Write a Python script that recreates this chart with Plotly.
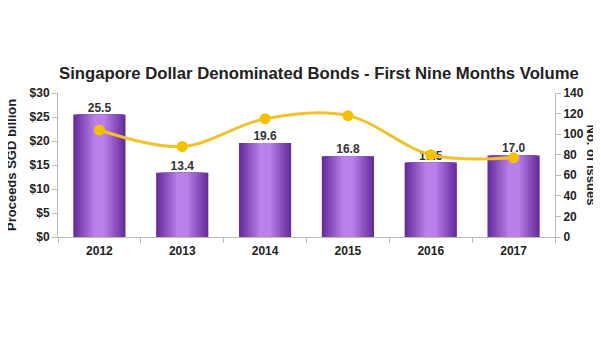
import plotly.graph_objects as go

years = ["2012", "2013", "2014", "2015", "2016", "2017"]
proceeds = [25.5, 13.4, 19.6, 16.8, 15.5, 17.0]
issues = [104, 88, 115, 118, 80, 77]
left_ticks = [0, 5, 10, 15, 20, 25, 30]
left_labels = ["$0", "$5", "$10", "$15", "$20", "$25", "$30"]
right_ticks = [0, 20, 40, 60, 80, 100, 120, 140]

fig = go.Figure()

# layered bars to mimic horizontal gradient (dark edges, light center)
dark = (104, 44, 158)
light = (184, 128, 232)
N = 10
full_w = 0.63
for k in range(N):
    t = k / (N - 1)
    c = tuple(int(dark[i] + (light[i] - dark[i]) * t) for i in range(3))
    w = full_w * (1 - 0.85 * k / N)
    fig.add_trace(go.Bar(
        x=years, y=proceeds, width=w,
        marker=dict(color="rgb(%d,%d,%d)" % c, line=dict(width=0)),
        hoverinfo="skip", showlegend=False))

fig.add_trace(go.Scatter(
    x=years, y=issues, yaxis="y2", mode="lines+markers",
    line=dict(color="#F2C12E", width=3, shape="spline", smoothing=1.0),
    marker=dict(color="#F5C000", size=11),
    showlegend=False, cliponaxis=False))

# value labels
fig.add_trace(go.Scatter(
    x=years, y=proceeds, mode="text",
    text=["<b>%.1f</b>" % v for v in proceeds], textposition="top center",
    textfont=dict(family="Liberation Sans", size=12, color="#333333"),
    showlegend=False, cliponaxis=False))

fig.update_layout(
    width=601, height=360,
    margin=dict(l=50, r=54, t=85, b=131, autoexpand=False),
    paper_bgcolor="white", plot_bgcolor="white",
    barmode="overlay",
    font=dict(family="Liberation Sans", size=12, color="#222222"),
    title=dict(text="<b>Singapore Dollar Denominated Bonds - First Nine Months Volume</b>",
               x=0.525, xanchor="center", xref="paper", y=0.819, yref="container", yanchor="middle",
               font=dict(size=16.7, color="#222222"), automargin=False),
    xaxis=dict(type="category", showline=True, linecolor="#BBBBBB", linewidth=1,
               ticks="outside", tickson="boundaries", ticklen=5, tickcolor="#BBBBBB",
               tickfont=dict(size=12, color="#222222", family="Liberation Sans"),
               ticklabelstandoff=3, automargin=False),
    yaxis=dict(range=[0, 30], tickvals=left_ticks, ticktext=["<b>%s</b>" % s for s in left_labels],
               showgrid=False, zeroline=False, showline=True, linecolor="#BBBBBB",
               ticks="outside", ticklen=5, tickcolor="#BBBBBB", automargin=False),
    yaxis2=dict(range=[0, 140], tickvals=right_ticks, ticktext=["<b>%d</b>" % v for v in right_ticks],
                overlaying="y", side="right", showgrid=False, zeroline=False, automargin=False,
                showline=True, linecolor="#BBBBBB", ticks="outside", ticklen=5, tickcolor="#BBBBBB"),
    annotations=[
        dict(text="<b>No. of Issues</b>", textangle=90, xref="paper", yref="paper",
             x=1.0, xshift=46, y=0.5, showarrow=False,
             font=dict(size=13, color="#222222")),
        dict(text="<b>Proceeds SGD billion</b>", textangle=-90, xref="paper", yref="paper",
             x=0.0, xanchor="center", xshift=-47, y=0.5, yanchor="middle", showarrow=False,
             font=dict(size=13, color="#222222")),
    ],
)
fig.update_xaxes(ticktext=["<b>%s</b>" % y for y in years], tickvals=years)

fig.write_html("out.html")
